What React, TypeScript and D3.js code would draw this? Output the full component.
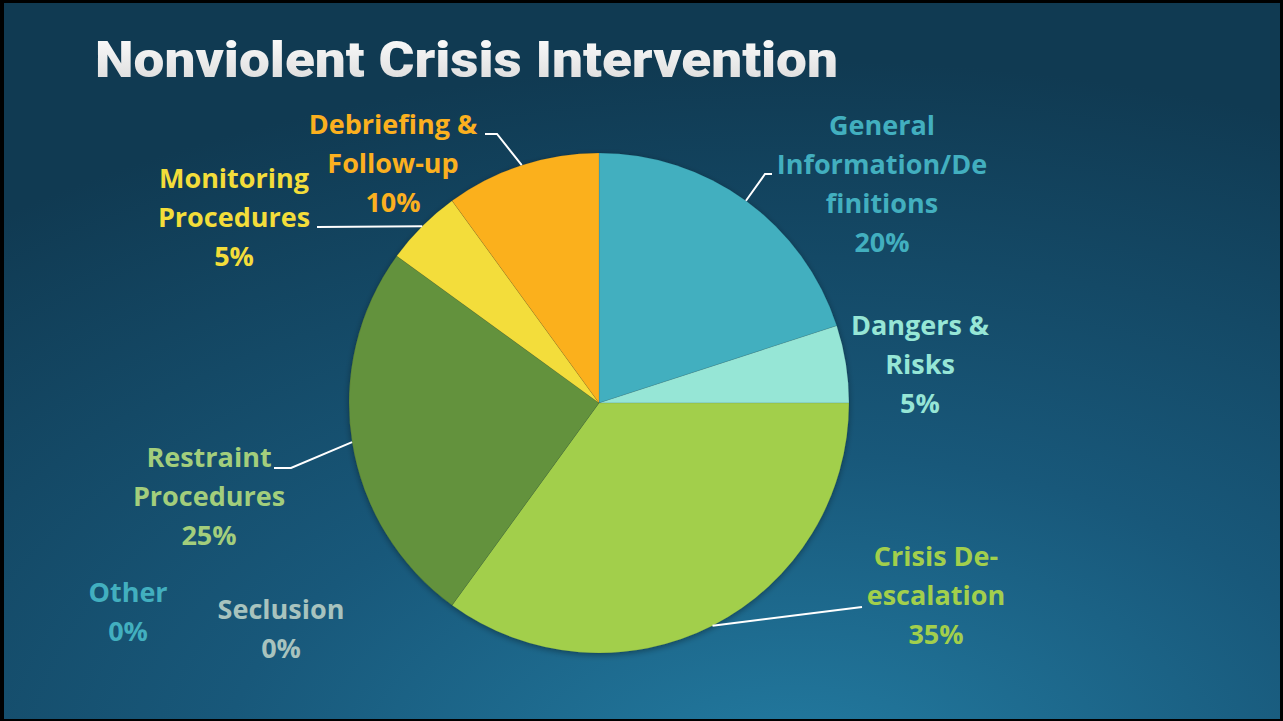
import React from "react";
import * as d3 from "d3";

const categories = [
  "General Information/Definitions",
  "Dangers & Risks",
  "Crisis De-escalation",
  "Seclusion",
  "Other",
  "Restraint Procedures",
  "Monitoring Procedures",
  "Debriefing & Follow-up",
];
const values = [20, 5, 35, 0, 0, 25, 5, 10];
const labelLines = [
  ["General", "Information/De", "finitions", "20%"],
  ["Dangers &", "Risks", "5%"],
  ["Crisis De-", "escalation", "35%"],
  ["Seclusion", "0%"],
  ["Other", "0%"],
  ["Restraint", "Procedures", "25%"],
  ["Monitoring", "Procedures", "5%"],
  ["Debriefing &", "Follow-up", "10%"],
];
const title = "Nonviolent Crisis Intervention";

// styling / layout (not data)
const sliceColors = ["#42AFBF", "#96E6D6", "#A2CF4C", "#A8C3BE", "#42AFBF", "#64923C", "#F3DD3A", "#FBB01F"];
const labelColors = ["#42AFBF", "#96E6D6", "#A2CF4C", "#A8C3BE", "#42AFBF", "#A3CE7C", "#F3DD3A", "#FBB01F"];
// label text block centre (x, first-line y) relative to pie centre
const labelPos: [number, number][] = [
  [283, -278],
  [321, -78],
  [337, 153],
  [-318, 206],
  [-471, 189],
  [-390, 54],
  [-365, -225],
  [-206, -279],
];
// leader elbow points relative to pie centre, null = no leader
const leaderElbow: ([number, number, number] | null)[] = [
  [166, -229, 173],
  null,
  [263, 204, 263],
  null,
  null,
  [-308, 65, -325],
  [-282, -176, -282],
  [-102, -269, -114],
];

const W = 1283;
const H = 721;
const cx = 599;
const cy = 403;
const R = 250;
const lineH = 39;

export default function App() {
  const pie = d3.pie<number>().sort(null).value((d) => d)(values);
  const arc = d3.arc<d3.PieArcDatum<number>>().innerRadius(0).outerRadius(R);
  const edge = d3.arc<d3.PieArcDatum<number>>().innerRadius(R).outerRadius(R);

  return (
    <svg
      width={W}
      height={H}
      style={{ position: "absolute", left: 0, top: 0 }}
      fontFamily="'Open Sans', Lato, sans-serif"
    >
      <defs>
        <radialGradient id="bg" cx="0.62" cy="1.08" r="1.0">
          <stop offset="0" stopColor="#237ca2" />
          <stop offset="0.45" stopColor="#18587a" />
          <stop offset="1" stopColor="#103a52" />
        </radialGradient>
        <linearGradient id="tg" x1="0" y1="0" x2="0" y2="1">
          <stop offset="0" stopColor="#ffffff" />
          <stop offset="1" stopColor="#d8d8d8" />
        </linearGradient>
        <filter id="sh" x="-20%" y="-20%" width="140%" height="140%">
          <feDropShadow dx="0" dy="2" stdDeviation="3" floodColor="#000" floodOpacity="0.35" />
        </filter>
      </defs>
      <rect x={0} y={0} width={W} height={H} fill="#000" />
      <rect x={4} y={3} width={W - 7} height={H - 5} fill="url(#bg)" />
      <text
        x={95}
        y={77}
        fontSize={50}
        fontWeight={900}
        fill="url(#tg)"
        textLength={743}
        lengthAdjust="spacingAndGlyphs"
        fontFamily="Roboto, 'DejaVu Sans', sans-serif"
      >
        {title}
      </text>
      <g transform={`translate(${cx},${cy})`}>
        <g filter="url(#sh)">
          {pie.map((p, i) =>
            p.value > 0 ? (
              <path key={categories[i]} d={arc(p) || ""} fill={sliceColors[i]} stroke="rgba(0,0,0,0.15)" strokeWidth={0.6} />
            ) : null
          )}
        </g>
        {pie.map((p, i) => {
          const el = leaderElbow[i];
          if (!el) return null;
          const [sx, sy] = edge.centroid(p);
          return (
            <polyline
              key={"l" + i}
              points={`${sx},${sy} ${el[0]},${el[1]} ${el[2]},${el[1]}`}
              fill="none"
              stroke="#fff"
              strokeWidth={2}
            />
          );
        })}
        {labelLines.map((lines, i) => (
          <text
            key={"t" + i}
            textAnchor="middle"
            fontSize={27}
            fontWeight={700}
            fill={labelColors[i]}
          >
            {lines.map((ln, j) => (
              <tspan key={j} x={labelPos[i][0]} y={labelPos[i][1] + j * lineH + 10}>
                {ln}
              </tspan>
            ))}
          </text>
        ))}
      </g>
    </svg>
  );
}
